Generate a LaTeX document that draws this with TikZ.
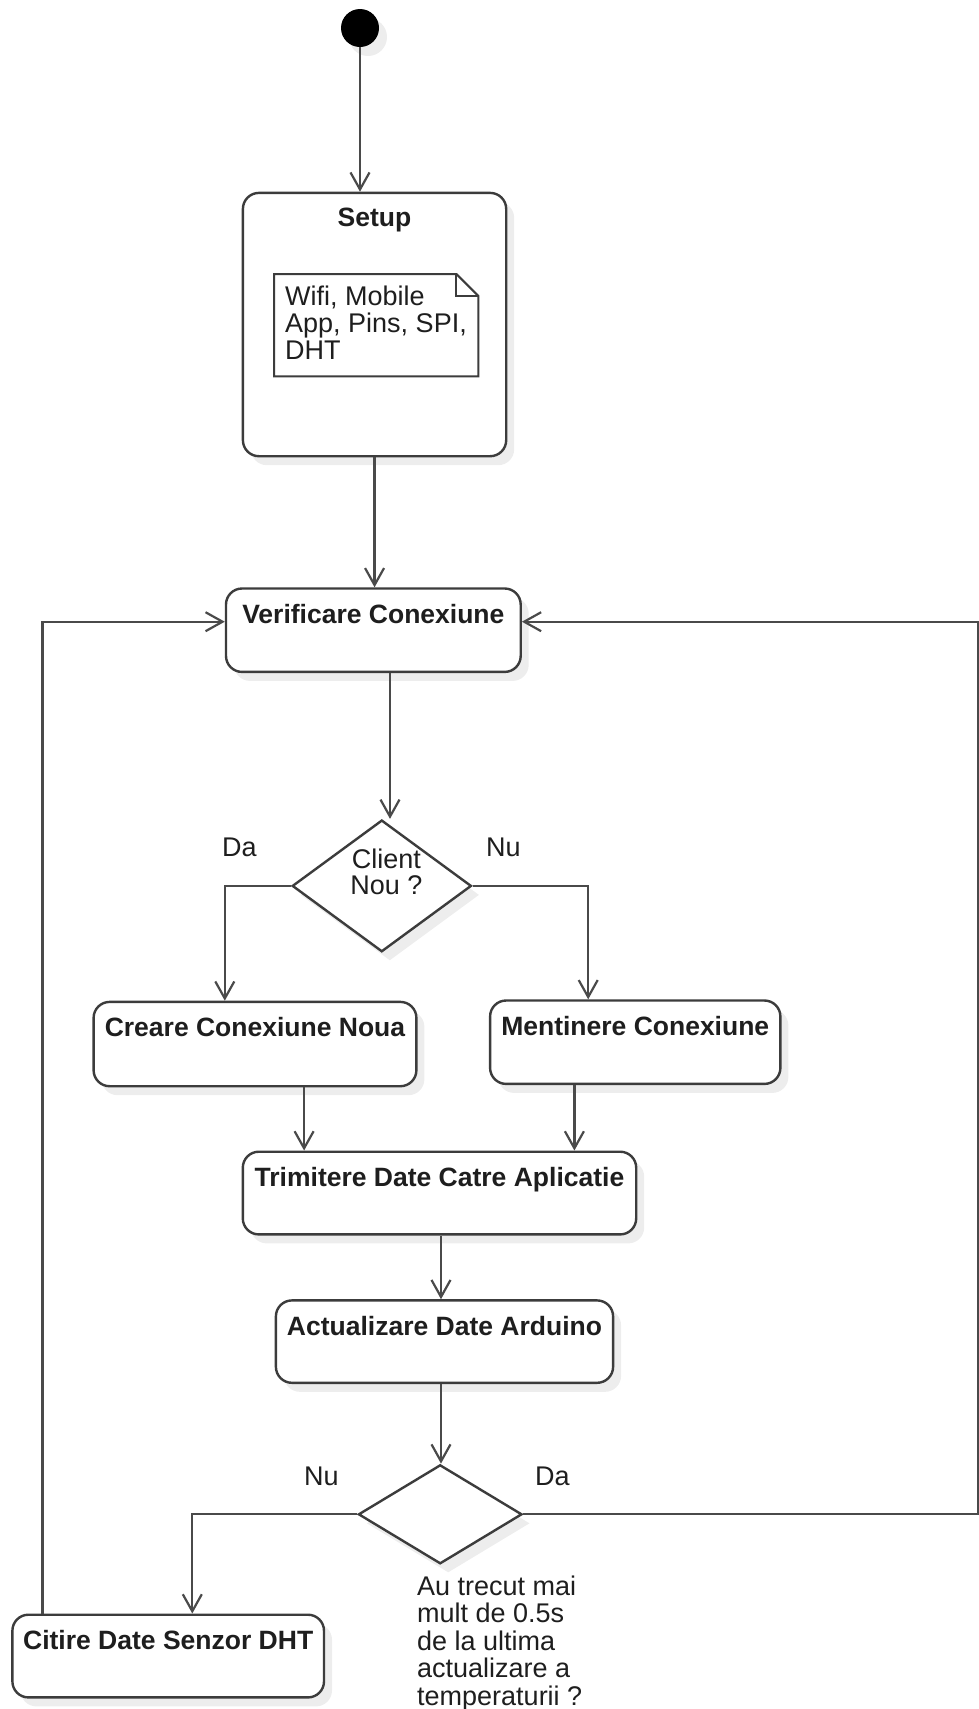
\documentclass[tikz,border=0pt]{standalone}
\usepackage{fontspec}
\setmainfont{Liberation Sans}
\usetikzlibrary{arrows.meta,shapes.geometric,shadows,calc}
\definecolor{edgec}{HTML}{3C3C3C}
\definecolor{connc}{HTML}{4A4A4A}
\definecolor{txtc}{HTML}{1E1E1E}
\newcommand{\rfont}{\fontsize{27pt}{26.8pt}\selectfont}
\newcommand{\bfont}{\fontsize{26.5pt}{27pt}\selectfont\bfseries}
\begin{document}
\begin{tikzpicture}[x=1pt,y=-1pt,
  shd/.style={drop shadow={shadow xshift=8pt, shadow yshift=-9pt, fill=black, opacity=0.07}},
  init/.style={circle, fill=black, draw=none, minimum size=38pt, inner sep=0pt, shd},
  actbox/.style={draw=edgec, line width=2.4pt, rounded corners=16pt, fill=white, anchor=north west, inner sep=0pt, shd},
  decbox/.style={diamond, draw=edgec, line width=2.4pt, fill=white, inner sep=0pt, shd},
  lbl/.style={anchor=base, inner sep=0pt, text=txtc, font=\bfont},
  rtxt/.style={inner sep=0pt, text=txtc, font=\rfont},
  conn/.style={draw=connc, line width=2.2pt, -{Straight Barb[length=17pt,width=19pt]}},
  notebox/.style={draw=edgec, line width=2pt, line join=miter}
]
\fill[white] (0,0) rectangle (979,1709);
\useasboundingbox (0,0) rectangle (979,1709);

% initial node
\node[init] (start) at (360,28) {};

% Setup
\node[actbox, minimum width=263.3pt, minimum height=263.3pt] (setup) at (241.7,191.7) {};
\node[lbl] (setupT) at ($(setup.north)+(0,35)$) {Setup};
\node[inner sep=0pt, anchor=north west, minimum width=204pt, minimum height=102pt] (note) at (274,274) {};
\draw[notebox] (note.north west) -- ($(note.north east)+(-22,0)$) -- ($(note.north east)+(0,22)$) -- (note.south east) -- (note.south west) -- cycle;
\draw[notebox] ($(note.north east)+(-22,0)$) -- ($(note.north east)+(-22,22)$) -- ($(note.north east)+(0,22)$);
\node[rtxt, anchor=base west] (noteT) at (285,305) {\begin{tabular}[t]{@{}l@{}}Wifi, Mobile\\App, Pins, SPI,\\DHT\end{tabular}};

% Verificare Conexiune
\node[actbox, minimum width=294.7pt, minimum height=83.4pt] (verif) at (224.8,587.3) {};
\node[lbl] (verifT) at ($(verif.north)+(0,36.5)$) {Verificare Conexiune};

% Decision 1
\node[decbox, minimum width=179.2pt, minimum height=131.7pt] (d1) at (381.8,885.9) {};
\node[rtxt, anchor=base] (d1T) at (386.5,868) {\begin{tabular}[t]{@{}c@{}}Client\\Nou ?\end{tabular}};
\node[rtxt, anchor=base west] (da1) at (222,856) {Da};
\node[rtxt, anchor=base west] (nu1) at (486,856) {Nu};

% Creare / Mentinere
\node[actbox, minimum width=322.8pt, minimum height=84.3pt] (creare) at (92.4,1000.7) {};
\node[lbl] (creareT) at ($(creare.north)+(0,36)$) {Creare Conexiune Noua};
\node[actbox, minimum width=290.3pt, minimum height=83.4pt] (ment) at (488.9,999.3) {};
\node[lbl] (mentT) at ($(ment.north)+(0,36)$) {Mentinere Conexiune};

% Trimitere
\node[actbox, minimum width=393.4pt, minimum height=82.7pt] (trim) at (241.6,1150.5) {};
\node[lbl] (trimT) at ($(trim.north)+(0,35.5)$) {Trimitere Date Catre Aplicatie};

% Actualizare
\node[actbox, minimum width=337.2pt, minimum height=82.4pt] (actu) at (274.7,1299.2) {};
\node[lbl] (actuT) at ($(actu.north)+(0,36)$) {Actualizare Date Arduino};

% Decision 2
\node[decbox, minimum width=163.6pt, minimum height=99pt] (d2) at (440.2,1514.3) {};
\node[rtxt, anchor=base west] (nu2) at (304,1485.7) {Nu};
\node[rtxt, anchor=base west] (da2) at (535,1485.7) {Da};
\node[rtxt, anchor=base west] (d2T) at (417,1595) {\begin{tabular}[t]{@{}l@{}}Au trecut mai\\mult de 0.5s\\de la ultima\\actualizare a\\temperaturii ?\end{tabular}};

% Citire
\node[actbox, minimum width=311.6pt, minimum height=82.7pt] (citire) at (11.2,1613.5) {};
\node[lbl] (citireT) at ($(citire.north)+(0,36)$) {Citire Date Senzor DHT};

% loop corner coordinates
\coordinate (lc) at (42.5,621.7);
\coordinate (rc) at (977.6,621.7);

% connectors
\draw[conn] (start.south) -- (start.south |- setup.north);
\draw[conn] (setup.south) -- (setup.south |- verif.north);
\draw[conn] (390,0 |- verif.south) -- (390,0 |- d1.north);
\draw[conn] (d1.west) -| (224.8,0 |- creare.north);
\draw[conn] (d1.east) -| (588.2,0 |- ment.north);
\draw[conn] (304.1,0 |- creare.south) -- (304.1,0 |- trim.north);
\draw[conn] (574.4,0 |- ment.south) -- (574.4,0 |- trim.north);
\draw[conn] (441,0 |- trim.south) -- (441,0 |- actu.north);
\draw[conn] (441,0 |- actu.south) -- (441,0 |- d2.north);
\draw[conn] (d2.west) -| (192.3,0 |- citire.north);
\draw[conn] (d2.east) -| (rc) -- (rc -| verif.east);
\draw[conn] (citire.north -| lc) -- (lc) -- (lc -| verif.west);
\end{tikzpicture}
\end{document}
